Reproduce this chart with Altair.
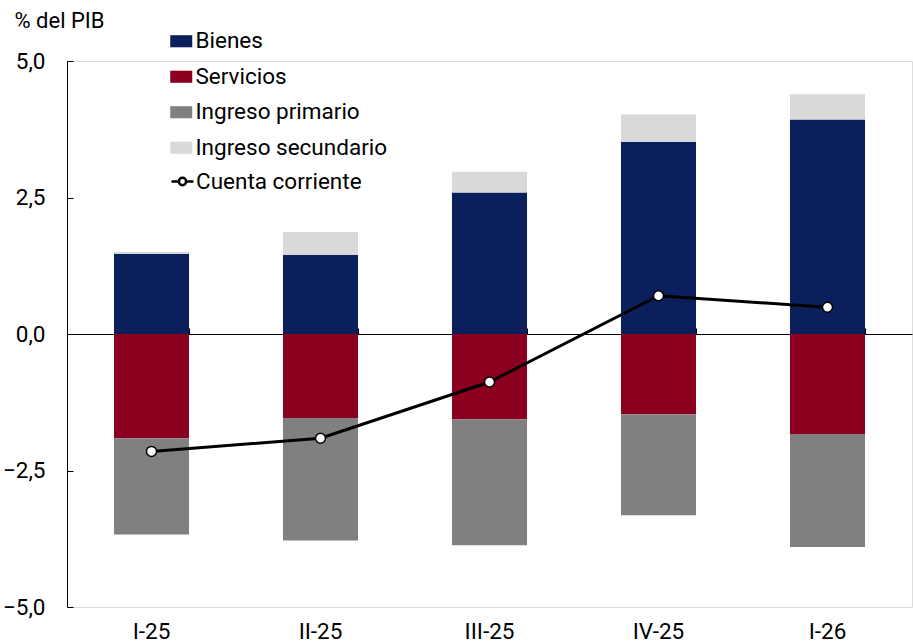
import altair as alt
import pandas as pd

periods = ["I-25", "II-25", "III-25", "IV-25", "I-26"]
components = ["Bienes", "Servicios", "Ingreso primario", "Ingreso secundario"]
bienes = [1.47, 1.45, 2.59, 3.52, 3.93]
servicios = [-1.91, -1.54, -1.56, -1.47, -1.83]
primario = [-1.76, -2.24, -2.31, -1.85, -2.07]
secundario = [0.03, 0.42, 0.38, 0.50, 0.46]
cuenta = [-2.15, -1.91, -0.88, 0.70, 0.49]
colors = ["#0b1f5c", "#8a001e", "#808080", "#d9d9d9"]
y_ticks = [-5, -2.5, 0, 2.5, 5]

rows = []
for i, p in enumerate(periods):
    for k, (name, vals) in enumerate(zip(components, [bienes, servicios, primario, secundario])):
        rows.append({"periodo": p, "componente": name, "valor": vals[i], "orden": k})
df = pd.DataFrame(rows)
line_df = pd.DataFrame({"periodo": periods, "valor": cuenta, "serie": ["Cuenta corriente"] * len(periods)})

W, H = 845, 546
FONT = "Roboto"
FS = 22.5

xscale = alt.Scale(domain=periods, paddingInner=0.556, paddingOuter=0.278)
yscale = alt.Scale(domain=[-5, 5], nice=False, zero=False)

bars = alt.Chart(df).mark_bar().encode(
    x=alt.X("periodo:N", scale=xscale, sort=periods, title=None,
            axis=alt.Axis(orient="bottom", domain=False, ticks=False, labelAngle=0,
                          labelFontSize=FS, labelPadding=13, labelColor="black", labelFont=FONT)),
    y=alt.Y("valor:Q", scale=yscale, title="% del PIB", stack="zero",
            axis=alt.Axis(orient="left", values=y_ticks, domain=False, ticks=False, grid=False,
                          labelExpr="replace(format(datum.value, '.1f'), '.', ',')",
                          labelFontSize=FS, labelPadding=22, labelColor="black", labelFont=FONT,
                          titleAngle=0, titleX=-53, titleY=-34, titleAlign="left",
                          titleBaseline="alphabetic", titleFontSize=22, titleFont=FONT,
                          titleFontWeight="normal", titleColor="black")),
    color=alt.Color("componente:N", scale=alt.Scale(domain=components, range=colors),
                    legend=alt.Legend(title=None, orient="none", legendX=103, legendY=-31,
                                      symbolType="M-1,-0.55H1V0.55H-1Z", symbolSize=484,
                                      symbolStrokeWidth=0, labelFontSize=FS, labelFont=FONT,
                                      labelColor="black", labelOffset=3, rowPadding=12.5,
                                      labelLimit=400, padding=0)),
    order=alt.Order("orden:Q"),
)

line = alt.Chart(line_df).mark_line(color="black", strokeWidth=3).encode(
    x=alt.X("periodo:N", scale=xscale, sort=periods, title=None,
            axis=alt.Axis(orient="top", offset=-273, labels=False, domainColor="black",
                          domainWidth=1, tickColor="black", tickSize=6, tickBand="extent",
                          grid=False)),
    y=alt.Y("valor:Q", scale=yscale, title=None,
            axis=alt.Axis(orient="right", offset=-W, labels=False, values=y_ticks, tickSize=6,
                          domainColor="black", tickColor="black", grid=False)),
    stroke=alt.Stroke("serie:N", scale=alt.Scale(range=["black"]),
                      legend=alt.Legend(title=None, orient="none", legendX=103, legendY=108,
                                        symbolType="M-1,0H-0.33M0.33,0H1M-0.33,0A0.33,0.33 0 1,1 0.33,0A0.33,0.33 0 1,1 -0.33,0",
                                        symbolSize=484, symbolStrokeWidth=2.5,
                                        symbolFillColor="white", symbolStrokeColor="black",
                                        labelFontSize=FS, labelFont=FONT, labelColor="black",
                                        labelOffset=1, labelLimit=400, padding=0)),
)

points = alt.Chart(line_df).mark_point(filled=True, fill="white", stroke="black", strokeWidth=1.5,
                                       size=100, opacity=1).encode(
    x=alt.X("periodo:N", scale=xscale, sort=periods, axis=None),
    y=alt.Y("valor:Q", scale=yscale, axis=None),
)

chart = alt.layer(bars, line, points).resolve_axis(x="independent", y="independent").properties(
    width=W, height=H,
    autosize=alt.AutoSizeParams(type="none"),
    padding={"left": 67, "top": 61, "right": 1, "bottom": 37},
).configure_view(stroke=None).configure(background="white")

chart.save("out.html", embed_options={"renderer": "svg", "actions": False})
